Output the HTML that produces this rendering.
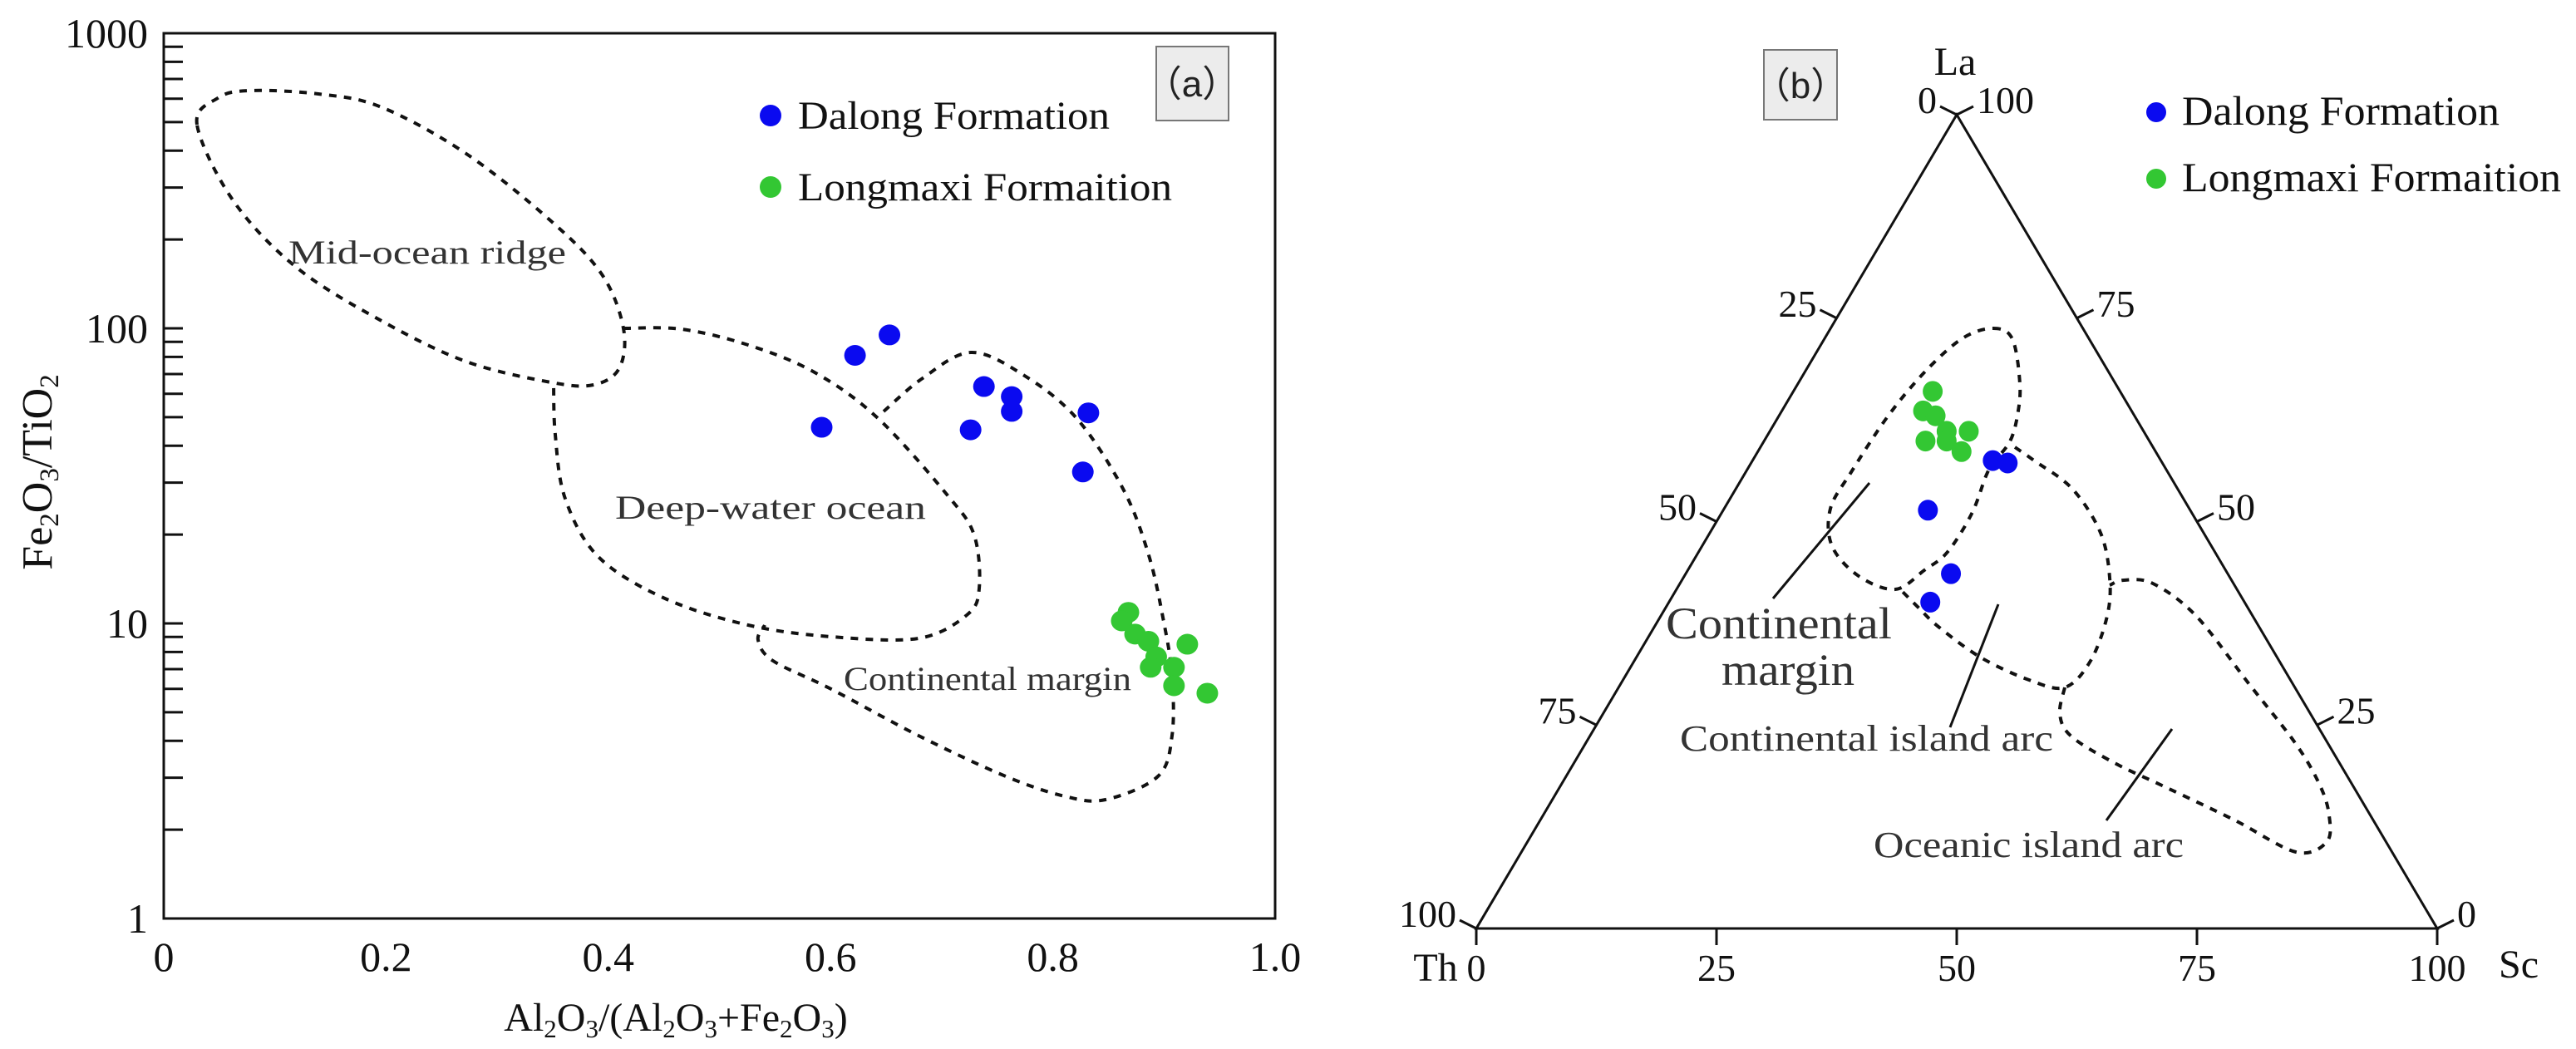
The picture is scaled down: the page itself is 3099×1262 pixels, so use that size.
<!DOCTYPE html>
<html><head><meta charset="utf-8"><style>
html,body{margin:0;padding:0;background:#fff;}
svg{display:block;}
text{font-family:"Liberation Serif",serif;fill:#111;}
</style></head><body>
<svg id="fig" width="3099" height="1262" viewBox="0 0 3099 1262" xmlns="http://www.w3.org/2000/svg">
<g id="pa"></g>
<g id="pb"></g>
</svg>
<script>
// ---------- Panel (a) data ----------
const aXTicks = [0, 0.2, 0.4, 0.6, 0.8, 1.0];
const aXTickLabels = ["0", "0.2", "0.4", "0.6", "0.8", "1.0"];
const aYTicks = [1, 10, 100, 1000];
const aYTickLabels = ["1", "10", "100", "1000"];
const dalongAlRatio = [0.592, 0.622, 0.653, 0.738, 0.763, 0.763, 0.726, 0.832, 0.827];
const dalongFeTi = [46.2, 81, 95, 63.5, 58.7, 52.3, 45.3, 51.7, 32.6];
const longmaxiAlRatio = [0.868, 0.862, 0.874, 0.886, 0.893, 0.888, 0.909, 0.909, 0.921, 0.939];
const longmaxiFeTi = [10.9, 10.2, 9.2, 8.7, 7.7, 7.1, 7.1, 6.15, 8.5, 5.8];
// ---------- Panel (b) data (percent) ----------
const bTicks = [0, 25, 50, 75, 100];
const dalongLa = [57.5, 57.2, 51.4, 43.6, 40.1];
const dalongSc = [25.0, 26.7, 21.3, 27.6, 27.2];
const longmaxiLa = [66.0, 63.6, 63.0, 61.1, 61.1, 59.9, 59.9, 58.6];
const longmaxiSc = [14.5, 14.7, 16.3, 18.4, 20.7, 16.8, 19.0, 21.2];

const NS = "http://www.w3.org/2000/svg";
function mk(parent, tag, attrs, txt){
  const e = document.createElementNS(NS, tag);
  for (const k in attrs) e.setAttribute(k, attrs[k]);
  if (txt !== undefined) e.textContent = txt;
  parent.appendChild(e);
  return e;
}
function smooth(pts, closed){
  const n = pts.length; let d = "M" + pts[0][0] + "," + pts[0][1];
  const get = i => closed ? pts[(i + n) % n] : pts[Math.max(0, Math.min(n - 1, i))];
  const last = closed ? n : n - 1;
  for (let i = 0; i < last; i++){
    const p0 = get(i - 1), p1 = get(i), p2 = get(i + 1), p3 = get(i + 2);
    const c1 = [p1[0] + (p2[0] - p0[0]) / 6, p1[1] + (p2[1] - p0[1]) / 6];
    const c2 = [p2[0] - (p3[0] - p1[0]) / 6, p2[1] - (p3[1] - p1[1]) / 6];
    d += " C" + c1.join(",") + " " + c2.join(",") + " " + p2.join(",");
  }
  return d + (closed ? "Z" : "");
}
const DASH = {fill:"none", stroke:"#111", "stroke-width":4, "stroke-dasharray":"9 9"};
const BLUE = "#0a0af0", GREEN = "#33c733";

// ================= PANEL A =================
const pa = document.getElementById("pa");
const AX0 = 197, AX1 = 1534, AY0 = 1105, AY1 = 40;
const ax = v => AX0 + v * (AX1 - AX0);
const ay = v => AY0 - (Math.log10(v) / 3) * (AY0 - AY1);

const frame = mk(pa, "rect", {x:AX0, y:AY1, width:AX1 - AX0, height:AY0 - AY1, fill:"none", stroke:"#111", "stroke-width":3});



for (let d = 0; d < 3; d++){
  for (let m = 1; m <= 9; m++){
    const v = m * Math.pow(10, d);
    const t = mk(pa, "line", {x1:AX0, x2:AX0 + 23, y1:ay(v), y2:ay(v), stroke:"#111", "stroke-width":3});
    
    
  }
}
aYTicks.forEach((v, i) => {
  const t = mk(pa, "text", {x:178, y:ay(v) + 17, "text-anchor":"end", "font-size":50}, aYTickLabels[i]);
  
  
});
aXTicks.forEach((v, i) => {
  const t = mk(pa, "text", {x:ax(v), y:1168, "text-anchor":"middle", "font-size":50}, aXTickLabels[i]);
  
  
});
const xt = mk(pa, "text", {x:813, y:1240, "text-anchor":"middle", "font-size":48});


xt.innerHTML = 'Al<tspan font-size="31" dy="8">2</tspan><tspan dy="-8">O</tspan><tspan font-size="31" dy="8">3</tspan><tspan dy="-8">/(Al</tspan><tspan font-size="31" dy="8">2</tspan><tspan dy="-8">O</tspan><tspan font-size="31" dy="8">3</tspan><tspan dy="-8">+Fe</tspan><tspan font-size="31" dy="8">2</tspan><tspan dy="-8">O</tspan><tspan font-size="31" dy="8">3</tspan><tspan dy="-8">)</tspan>';
const yt = mk(pa, "text", {x:0, y:0, "text-anchor":"middle", "font-size":52, transform:"translate(62,568) rotate(-90)"});


yt.innerHTML = 'Fe<tspan font-size="33" dy="8">2</tspan><tspan dy="-8">O</tspan><tspan font-size="33" dy="8">3</tspan><tspan dy="-8">/TiO</tspan><tspan font-size="33" dy="8">2</tspan>';

const midRidge = [[237,150],[262,118],[300,109],[383,113],[459,129],[561,185],[663,266],[724,330],[750,395],[745,443],[714,463],[663,460],[561,435],[459,386],[357,322],[281,242]];
const deepWater = [[750,395],[820,396],[900,415],[980,448],[1056,503],[1140,596],[1172,644],[1178,708],[1163,740],[1105,768],[1000,766],[900,752],[800,720],[720,670],[680,600],[668,523],[666,462]];
const contMargin = [[1063,495],[1110,455],[1168,424],[1231,451],[1295,503],[1351,588],[1382,668],[1400,748],[1410,813],[1410,885],[1393,934],[1330,962],[1281,958],[1210,934],[1105,885],[1000,829],[930,795],[912,770],[920,752]];
let p = mk(pa, "path", Object.assign({d:smooth(midRidge, true)}, DASH));


p = mk(pa, "path", Object.assign({d:smooth(deepWater, false)}, DASH));


p = mk(pa, "path", Object.assign({d:smooth(contMargin, false)}, DASH));



const regA = [["Mid-ocean ridge", 347, 317, 334, "mid-ocean-ridge-label"], ["Deep-water ocean", 740, 624, 374, "deep-water-ocean-label"], ["Continental margin", 1015, 830, 346, "continental-margin-label"]];
regA.forEach(r => {
  const t = mk(pa, "text", {x:r[1], y:r[2], "font-size":40, textLength:r[3], lengthAdjust:"spacingAndGlyphs", style:"fill:#333"}, r[0]);
  
  
});

dalongAlRatio.forEach((v, i) => {
  const c = mk(pa, "ellipse", {cx:ax(v), cy:ay(dalongFeTi[i]), rx:13, ry:12.5, fill:BLUE});
  
  
});
longmaxiAlRatio.forEach((v, i) => {
  const c = mk(pa, "ellipse", {cx:ax(v), cy:ay(longmaxiFeTi[i]), rx:13, ry:12.5, fill:GREEN});
  
  
});

let lg = mk(pa, "circle", {cx:927, cy:139, r:13, fill:BLUE});


lg = mk(pa, "text", {x:960, y:155, "font-size":48, textLength:375, lengthAdjust:"spacingAndGlyphs"}, "Dalong Formation");


lg = mk(pa, "circle", {cx:927, cy:225, r:13, fill:GREEN});


lg = mk(pa, "text", {x:960, y:241, "font-size":48, textLength:450, lengthAdjust:"spacingAndGlyphs"}, "Longmaxi Formaition");


lg = mk(pa, "rect", {x:1391, y:56, width:87, height:89, fill:"#ececec", stroke:"#777", "stroke-width":2});


lg = mk(pa, "text", {x:1434, y:116, "text-anchor":"middle", "font-size":44, style:"font-family:'Liberation Sans','Noto Sans CJK SC',sans-serif;fill:#222"}, "（a）");



// ================= PANEL B =================
const pb = document.getElementById("pb");
const TH = [1776, 1117], LA = [2354, 138], SC = [2932, 1117];
function tern(la, sc){
  const a = la / 100, s = sc / 100, t = 1 - a - s;
  return [t * TH[0] + a * LA[0] + s * SC[0], t * TH[1] + a * LA[1] + s * SC[1]];
}
const tri = mk(pb, "path", {d:`M${TH[0]},${TH[1]} L${LA[0]},${LA[1]} L${SC[0]},${SC[1]} Z`, fill:"none", stroke:"#111", "stroke-width":3});



bTicks.forEach(v => {
  const P = tern(0, v);
  const t = mk(pb, "line", {x1:P[0], y1:P[1], x2:P[0], y2:P[1] + 20, stroke:"#111", "stroke-width":3});
  
  
  const l = mk(pb, "text", {x:P[0], y:1180, "text-anchor":"middle", "font-size":46}, String(v));
  
  
});
bTicks.forEach(v => {
  const P = tern(100 - v, 0);
  const t = mk(pb, "line", {x1:P[0], y1:P[1], x2:P[0] - 20, y2:P[1] - 10, stroke:"#111", "stroke-width":3});
  
  
  const l = mk(pb, "text", {x:P[0] - 24, y:P[1] - 2, "text-anchor":"end", "font-size":46}, String(v));
  
  
});
bTicks.forEach(v => {
  const P = tern(v, 100 - v);
  const t = mk(pb, "line", {x1:P[0], y1:P[1], x2:P[0] + 20, y2:P[1] - 10, stroke:"#111", "stroke-width":3});
  
  
  const l = mk(pb, "text", {x:P[0] + 24, y:P[1] - 2, "text-anchor":"start", "font-size":46}, String(v));
  
  
});
let lb = mk(pb, "text", {x:2352, y:90, "text-anchor":"middle", "font-size":48}, "La");


lb = mk(pb, "text", {x:1727, y:1180, "text-anchor":"middle", "font-size":48}, "Th");


lb = mk(pb, "text", {x:3030, y:1176, "text-anchor":"middle", "font-size":48}, "Sc");



const cmField = [[2398,395],[2421,408],[2430,462],[2427,500],[2418,531],[2398,557],[2389,573],[2372,618],[2343,664],[2315,686],[2280,709],[2236,693],[2204,657],[2202,612],[2227,568],[2271,501],[2316,447],[2361,407]];
const ciaField = [[2424,538],[2447,554],[2493,588],[2527,641],[2538,695],[2535,741],[2515,795],[2484,827],[2441,818],[2383,791],[2332,754],[2309,732],[2286,709]];
const oiaField = [[2484,827],[2478,859],[2492,886],[2544,918],[2601,945],[2687,986],[2762,1025],[2799,1013],[2802,981],[2791,945],[2762,895],[2705,822],[2642,741],[2590,702],[2555,698],[2538,704]];
p = mk(pb, "path", Object.assign({d:smooth(cmField, true)}, DASH));


p = mk(pb, "path", Object.assign({d:smooth(ciaField, false)}, DASH));


p = mk(pb, "path", Object.assign({d:smooth(oiaField, false)}, DASH));



const pointers = [[2249,581,2133,720,"continental-margin-pointer"],[2404,727,2346,875,"continental-island-arc-pointer"],[2613,877,2534,987,"oceanic-island-arc-pointer"]];
pointers.forEach(q => {
  const l = mk(pb, "line", {x1:q[0], y1:q[1], x2:q[2], y2:q[3], stroke:"#111", "stroke-width":3});
  
  
});
const regB = [["Continental", 2004, 768, 272, 54, "continental-margin-label-line1"], ["margin", 2071, 824, 160, 54, "continental-margin-label-line2"], ["Continental island arc", 2021, 903, 449, 44, "continental-island-arc-label"], ["Oceanic island arc", 2254, 1031, 373, 44, "oceanic-island-arc-label"]];
regB.forEach(r => {
  const t = mk(pb, "text", {x:r[1], y:r[2], "font-size":r[4], textLength:r[3], lengthAdjust:"spacingAndGlyphs", style:"fill:#333"}, r[0]);
  
  
});

longmaxiLa.forEach((v, i) => {
  const P = tern(v, longmaxiSc[i]);
  const c = mk(pb, "ellipse", {cx:P[0], cy:P[1], rx:12, ry:12.5, fill:GREEN});
  
  
});
dalongLa.forEach((v, i) => {
  const P = tern(v, dalongSc[i]);
  const c = mk(pb, "ellipse", {cx:P[0], cy:P[1], rx:12, ry:12.5, fill:BLUE});
  
  
});

lg = mk(pb, "circle", {cx:2594, cy:135, r:12, fill:BLUE});


lg = mk(pb, "text", {x:2625, y:150, "font-size":50, textLength:382, lengthAdjust:"spacingAndGlyphs"}, "Dalong Formation");


lg = mk(pb, "circle", {cx:2594, cy:215, r:12, fill:GREEN});


lg = mk(pb, "text", {x:2625, y:230, "font-size":50, textLength:456, lengthAdjust:"spacingAndGlyphs"}, "Longmaxi Formaition");


lg = mk(pb, "rect", {x:2122, y:60, width:88, height:84, fill:"#ececec", stroke:"#777", "stroke-width":2});


lg = mk(pb, "text", {x:2166, y:118, "text-anchor":"middle", "font-size":44, style:"font-family:'Liberation Sans','Noto Sans CJK SC',sans-serif;fill:#222"}, "（b）");


</script>
</body></html>
